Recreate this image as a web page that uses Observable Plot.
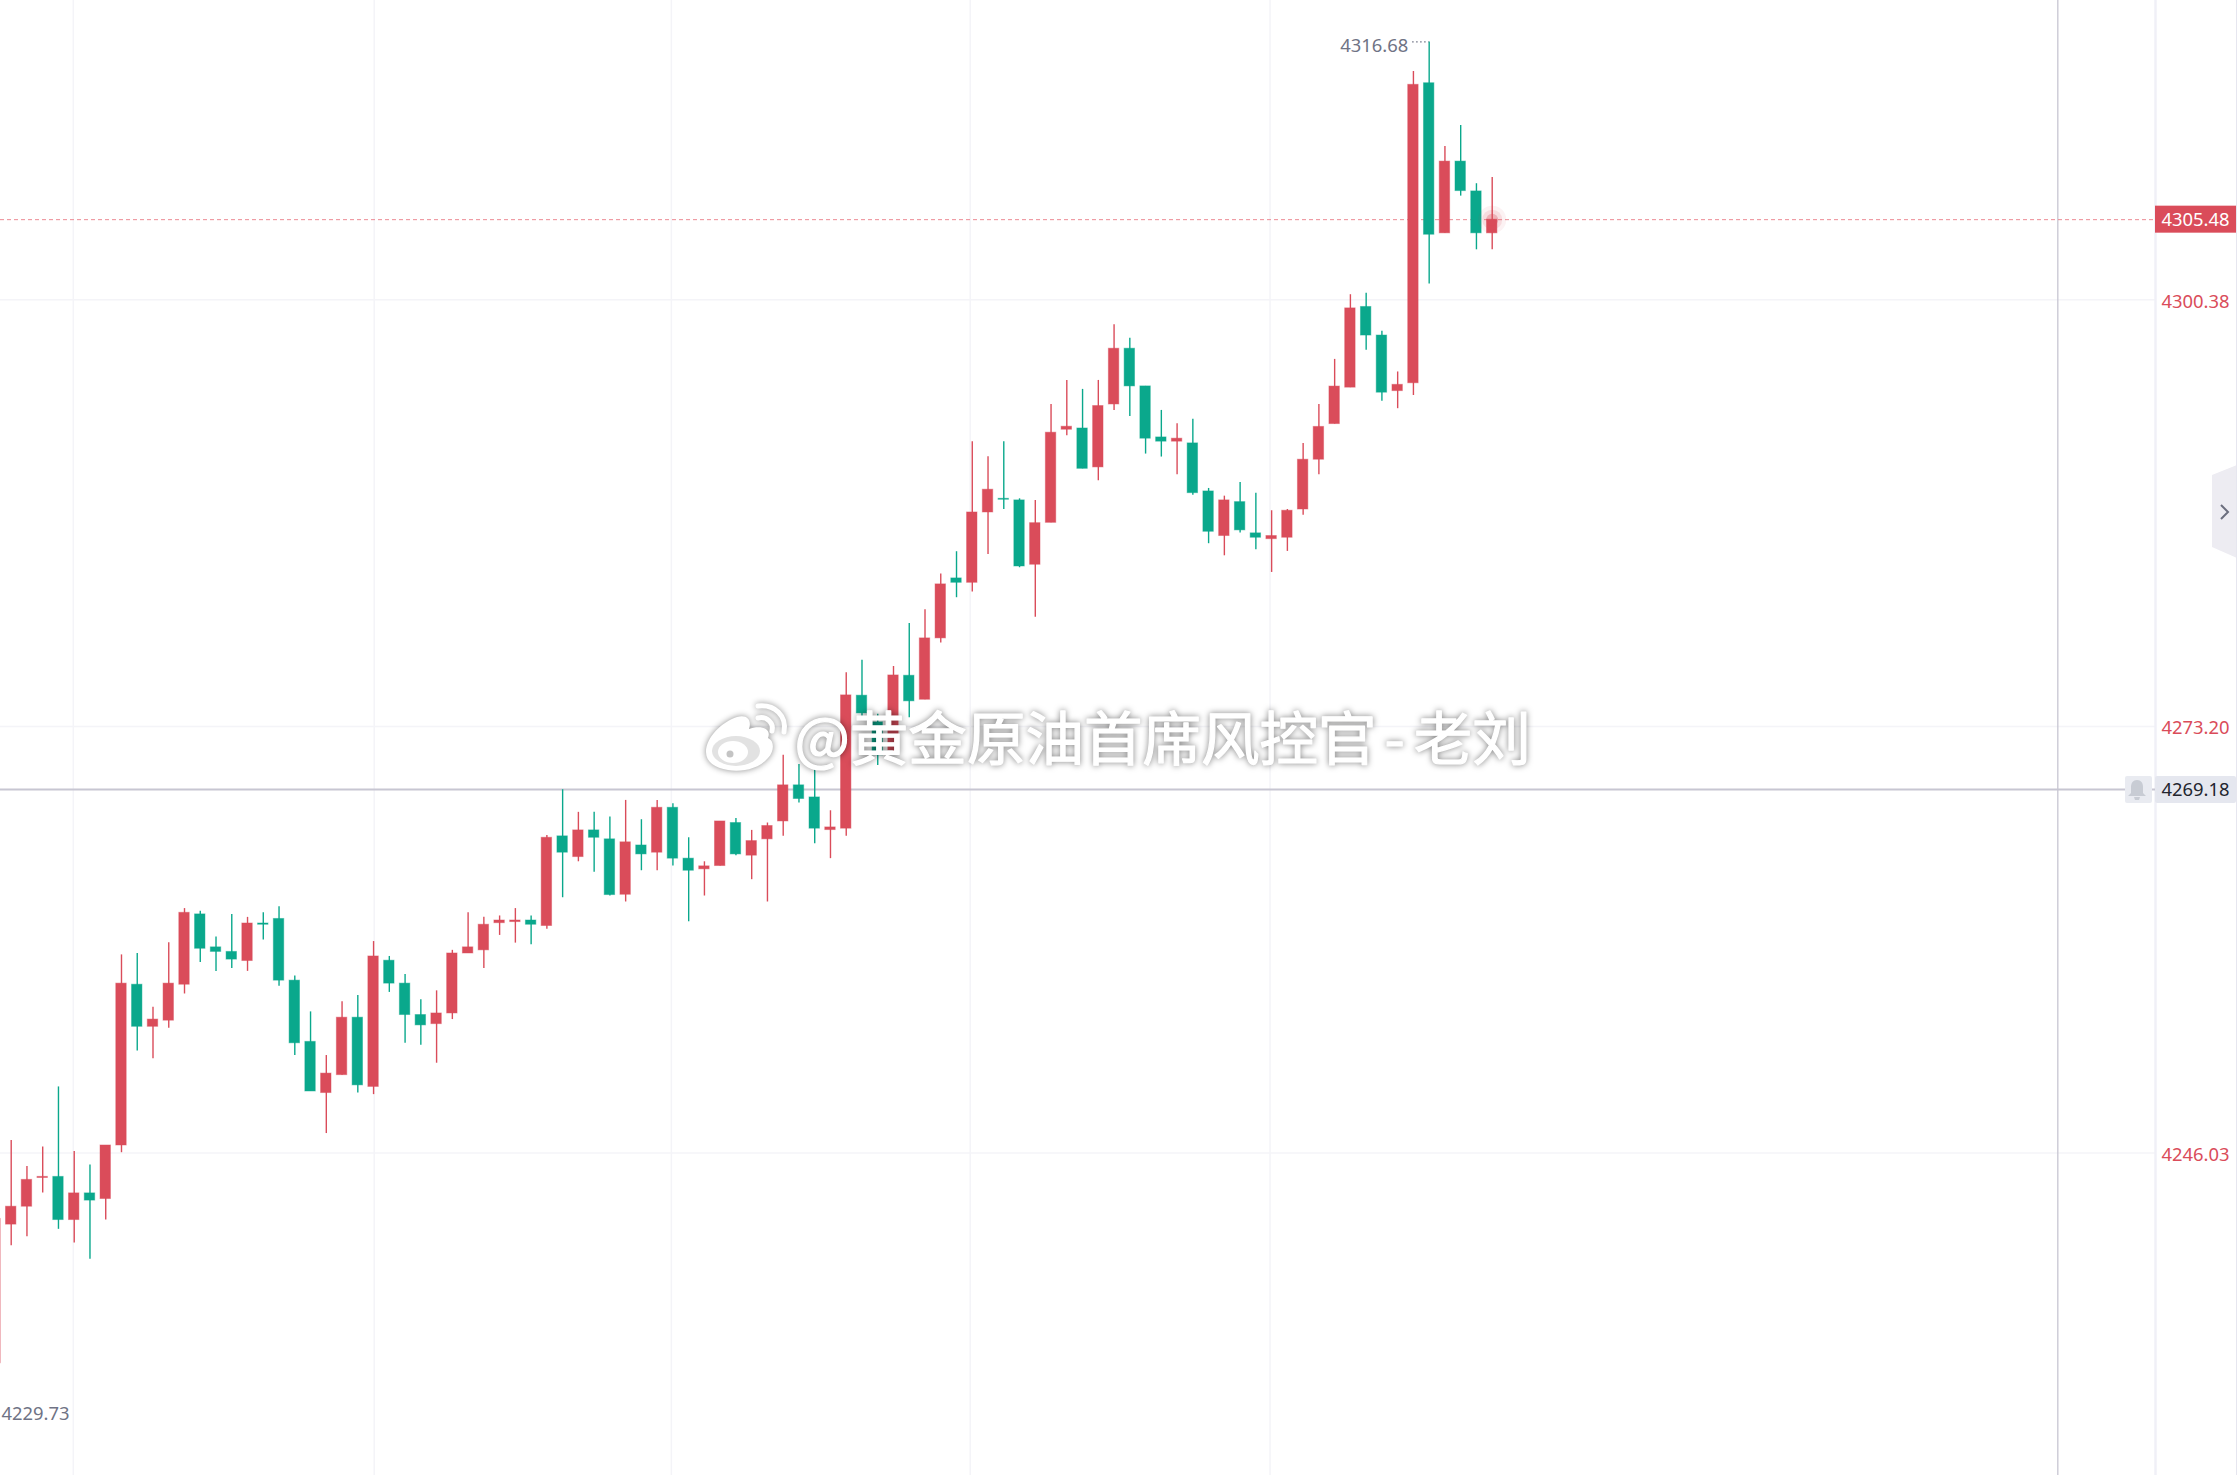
<!DOCTYPE html>
<html>
<head>
<meta charset="utf-8">
<script src="https://cdn.jsdelivr.net/npm/d3@7"></script>
<script src="https://cdn.jsdelivr.net/npm/@observablehq/plot@0.6"></script>
<style>html,body{margin:0;padding:0;background:#fff;overflow:hidden}svg{display:block}</style>
</head>
<body>
<script>
const highs = [4242.50,4246.83,4245.17,4246.41,4250.24,4246.12,4245.27,4246.51,4258.65,4258.74,4255.31,4259.43,4261.60,4261.43,4259.79,4261.23,4261.04,4261.33,4261.72,4257.31,4255.02,4252.24,4255.67,4256.06,4259.50,4258.55,4257.40,4255.80,4256.36,4258.94,4261.33,4261.04,4261.13,4261.60,4261.13,4266.26,4269.17,4267.73,4267.73,4267.43,4268.49,4267.26,4268.49,4268.28,4266.11,4264.58,4267.15,4267.34,4266.58,4267.05,4271.36,4270.78,4270.59,4267.83,4276.62,4277.41,4273.97,4277.02,4279.76,4280.63,4282.91,4284.33,4291.33,4290.38,4291.33,4287.70,4287.60,4293.71,4295.24,4294.67,4295.24,4298.79,4297.92,4294.86,4293.33,4292.48,4292.76,4288.36,4287.87,4288.74,4288.06,4286.94,4287.02,4291.23,4293.71,4296.58,4300.70,4300.79,4298.38,4295.78,4314.92,4316.80,4310.14,4311.48,4307.77,4308.16];
const opens = [4232.64,4241.47,4242.61,4244.44,4244.51,4241.76,4243.46,4243.10,4246.51,4256.75,4254.07,4254.46,4256.75,4261.23,4259.13,4258.84,4258.26,4260.65,4260.94,4257.01,4253.11,4249.85,4250.99,4254.65,4250.24,4258.28,4256.82,4254.82,4254.24,4254.92,4258.74,4258.94,4260.67,4260.74,4260.84,4260.49,4266.20,4264.88,4266.58,4266.01,4262.48,4265.62,4265.16,4268.02,4264.78,4264.10,4264.31,4267.05,4264.97,4266.01,4267.15,4269.45,4268.68,4266.60,4266.69,4275.16,4273.46,4271.67,4276.43,4274.90,4278.81,4282.63,4282.35,4286.83,4287.70,4287.60,4283.50,4286.17,4292.10,4292.18,4289.70,4293.71,4297.26,4294.86,4291.61,4291.34,4291.23,4288.17,4285.33,4287.49,4285.50,4285.13,4285.22,4287.02,4290.19,4292.46,4294.78,4299.92,4298.10,4294.56,4295.06,4314.17,4304.61,4309.18,4307.28,4304.61];
const closes = [4241.83,4242.61,4244.32,4244.51,4241.76,4243.46,4243.00,4246.51,4256.82,4254.07,4254.53,4256.82,4261.33,4259.04,4258.84,4258.35,4260.65,4260.57,4257.01,4253.02,4249.95,4251.09,4254.65,4250.34,4258.55,4256.82,4254.82,4254.16,4254.92,4258.74,4259.13,4260.57,4260.84,4260.84,4260.57,4266.11,4265.16,4266.58,4266.11,4262.46,4265.82,4265.05,4268.02,4264.78,4264.01,4264.29,4267.15,4265.05,4265.90,4266.86,4269.45,4268.58,4266.69,4266.77,4275.18,4274.03,4271.36,4276.45,4274.80,4278.81,4282.25,4282.35,4286.83,4288.28,4287.64,4283.39,4286.15,4291.91,4292.29,4289.61,4293.61,4297.26,4294.86,4291.53,4291.34,4291.53,4288.06,4285.60,4287.60,4285.69,4285.22,4285.33,4286.94,4290.19,4292.28,4294.85,4299.83,4298.10,4294.46,4294.96,4314.07,4304.52,4309.18,4307.30,4304.61,4305.48];
const lows = [4229.73,4240.13,4240.69,4243.49,4241.17,4240.30,4239.27,4241.76,4246.05,4252.53,4252.04,4253.97,4256.16,4258.16,4257.60,4257.79,4257.60,4259.60,4256.65,4252.24,4249.95,4247.27,4250.99,4249.85,4249.75,4256.26,4253.02,4252.90,4251.75,4254.53,4258.74,4257.79,4259.89,4259.40,4259.30,4260.28,4262.29,4264.58,4263.91,4262.40,4262.02,4264.01,4264.01,4264.31,4260.76,4262.40,4264.31,4264.97,4263.44,4262.02,4266.20,4268.32,4265.73,4264.78,4266.20,4273.71,4270.72,4271.48,4273.76,4274.90,4278.51,4281.40,4281.76,4284.16,4287.02,4283.31,4280.15,4286.17,4291.72,4289.61,4288.85,4293.33,4292.95,4290.55,4290.36,4289.23,4287.92,4284.84,4284.07,4285.52,4284.46,4283.01,4284.35,4286.66,4289.23,4292.46,4294.78,4297.17,4293.92,4293.44,4294.28,4301.38,4304.61,4306.98,4303.56,4303.56];

const priceTicks = [4300.38, 4273.20, 4246.03];
const timeGrid = [4.94, 24.04, 42.9, 61.87, 80.9];
const lastPrice = 4305.48;
const alertPrice = 4269.18;
const cursorIndex = 130.9;
const peakLabel = "4316.68";
const troughLabel = "4229.73";
const watermark = "@黄金原油首席风控官-老刘";

const RED = "#da4c5a", GREEN = "#0aa88c", GRID = "#f4f4f8", LINE = "#c7c6d2";
const candles = highs.map((h, i) => ({
  i, high: h, open: opens[i], close: closes[i], low: lows[i],
  top: Math.max(opens[i], closes[i]), bottom: Math.min(opens[i], closes[i]),
  color: closes[i] >= opens[i] ? RED : GREEN
}));
const last = candles[candles.length - 1];
const peak = candles[91];
const trough = candles[0];
const FONT = '"Noto Sans", sans-serif';
const xMax = 137.1;

function chrome(index, scales) {
  const g = d3.create("svg:g");
  const y = scales.y;
  g.append("rect").attr("x", 2155).attr("y", y(lastPrice) - 13.5).attr("width", 81).attr("height", 27).attr("fill", RED);
  const ya = y(alertPrice);
  g.append("rect").attr("x", 2155).attr("y", ya - 13).attr("width", 81).attr("height", 27).attr("rx", 2).attr("fill", "#e5e7ef");
  g.append("rect").attr("x", 2125).attr("y", ya - 13).attr("width", 27).attr("height", 27).attr("rx", 2).attr("fill", "#e9ebf1");
  g.append("path").attr("transform", `translate(2137,${ya})`).attr("fill", "#c8ccd4")
    .attr("d", "M0,-9 C4,-9 6,-6 6,-2 L6,4 L9,7 L-9,7 L-6,4 L-6,-2 C-6,-6 -4,-9 0,-9 Z M-3,8 L3,8 L2,11 L-2,11 Z");
  g.append("path").attr("d", "M2212,475 L2237,465 L2237,558 L2212,547 Z").attr("fill", "#edecf2");
  g.append("path").attr("d", "M2221,505 L2228,512 L2221,519").attr("fill", "none").attr("stroke", "#6b6e7e").attr("stroke-width", 2);
  g.append("rect").attr("x", 2236).attr("y", 0).attr("width", 1).attr("height", 1475).attr("fill", "#e6e6ef");
  return g.node();
}

function weibo() {
  const g = d3.create("svg:g").style("filter", "drop-shadow(0 0 3px rgba(0,0,0,.45))");
  g.append("path").attr("fill", "#fff")
    .attr("d", "M706,752 C706,737 722,722 737,717 C747,714 752,720 749,729 C760,725 772,728 768,738 C775,741 774,752 768,758 C758,770 740,772 728,770 C715,768 706,762 706,752 Z");
  g.append("ellipse").attr("cx", 736).attr("cy", 751).attr("rx", 24).attr("ry", 15).attr("fill", "#e2e2e2");
  g.append("ellipse").attr("cx", 733).attr("cy", 752).attr("rx", 15).attr("ry", 11).attr("fill", "#fff");
  g.append("circle").attr("cx", 730).attr("cy", 754).attr("r", 3.5).attr("fill", "#c4c4c4");
  g.append("path").attr("d", "M758,706 C775,704 787,716 784,732").attr("fill", "none").attr("stroke", "#fff").attr("stroke-width", 5).attr("stroke-linecap", "round");
  g.append("path").attr("d", "M758,718 C767,716 774,723 772,731").attr("fill", "none").attr("stroke", "#fff").attr("stroke-width", 5).attr("stroke-linecap", "round");
  return g.node();
}

const chart = Plot.plot({
  width: 2237,
  height: 1475,
  marginTop: 0, marginBottom: 0, marginLeft: 0, marginRight: 82,
  style: { fontFamily: FONT, background: "#fff" },
  x: { type: "linear", domain: [0.321, xMax], axis: null },
  y: { type: "linear", domain: [4225.49, 4319.44] },
  marks: [
    Plot.gridY(priceTicks, { stroke: GRID, strokeOpacity: 1, strokeWidth: 1.5 }),
    Plot.gridX(timeGrid, { stroke: GRID, strokeOpacity: 1, strokeWidth: 1.5 }),
    Plot.frame({ anchor: "right", stroke: "#f0f0f7", strokeWidth: 2.5 }),
    Plot.ruleX([cursorIndex], { stroke: LINE, strokeWidth: 1.3 }),
    Plot.ruleY([alertPrice], { stroke: LINE, strokeWidth: 2 }),
    Plot.ruleY([lastPrice], { stroke: "#ec8a94", strokeWidth: 1, strokeDasharray: "4 3" }),
    Plot.ruleX(candles, { x: "i", y1: "low", y2: "high", stroke: "color", strokeWidth: 1.4 }),
    Plot.rect(candles, {
      x1: d => d.i - 0.33, x2: d => d.i + 0.33, y1: "bottom", y2: "top",
      fill: "color", stroke: "color", strokeWidth: 1, strokeOpacity: 0.45
    }),
    Plot.dot([last], { x: "i", y: "close", r: 14, fill: RED, fillOpacity: 0.07 }),
    Plot.dot([last], { x: "i", y: "close", r: 10, fill: RED, fillOpacity: 0.13 }),
    Plot.dot([last], { x: "i", y: "close", r: 6, fill: RED, fillOpacity: 0.3 }),
    Plot.ruleY([peak.high], { x1: peak.i - 1.05, x2: peak.i, stroke: "#6f7385", strokeWidth: 1.2, strokeDasharray: "1.5 2.5" }),
    Plot.text([peakLabel], { x: peak.i, y: peak.high, dx: -21, dy: 4, textAnchor: "end", fill: "#6f7385", fontSize: 18.4 }),
    Plot.text([troughLabel], { x: trough.i, y: trough.low, dx: 6, dy: 5, textAnchor: "start", fill: "#6f7385", fontSize: 18.4 }),
    Plot.axisY(priceTicks, {
      anchor: "right", tickSize: 0, tickPadding: 6, label: null,
      tickFormat: d => d.toFixed(2), fill: RED, fontSize: 18.4, dy: 2
    }),
    chrome,
    Plot.text([lastPrice], { x: xMax, y: d => d, dx: 6, dy: 0.5, text: d => d.toFixed(2), textAnchor: "start", fill: "#fff", fontSize: 18.4, clip: false }),
    Plot.text([alertPrice], { x: xMax, y: d => d, dx: 6, dy: 1, text: d => d.toFixed(2), textAnchor: "start", fill: "#23252e", fontSize: 18.4, clip: false }),
    weibo,
    Plot.text([watermark], {
      frameAnchor: "top-left", lineAnchor: "middle", dx: 794, dy: 741, textAnchor: "start",
      fontFamily: '"Noto Sans CJK SC", sans-serif', fontSize: 58.5, fill: "#fff",
      stroke: "#fff", strokeWidth: 1.2,
      imageFilter: "drop-shadow(0 0 3px rgba(0,0,0,.5))",
      render: (i, s, v, d, c, next) => {
        const g = next(i, s, v, d, c);
        g.querySelector("text").setAttribute("dx", "0 0 0 0 0 0 0 0 0 0 8 9 0");
        return g;
      }
    })
  ]
});
document.body.appendChild(chart);
</script>
</body>
</html>
